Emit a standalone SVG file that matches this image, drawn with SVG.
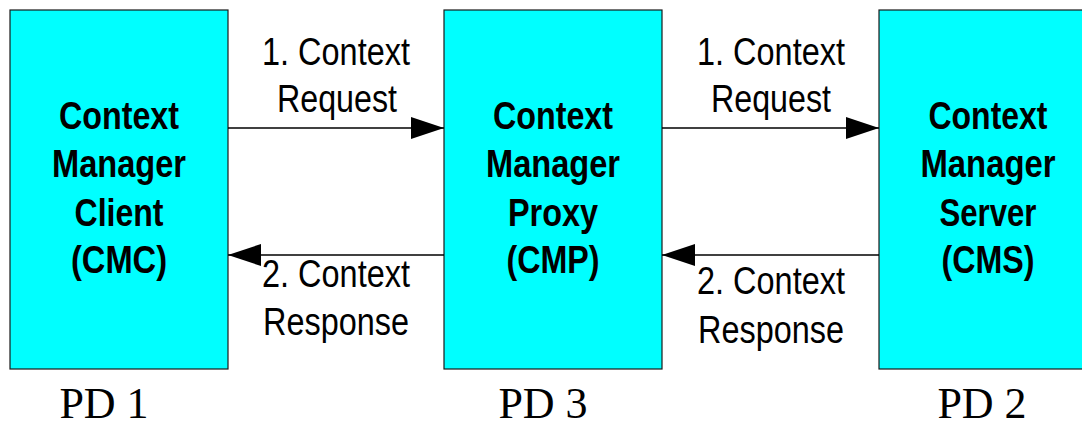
<svg xmlns="http://www.w3.org/2000/svg" width="1082" height="428" viewBox="0 0 1082 428">
<defs>
<style>
.box{fill:#00FFFF;stroke:#1a1a1a;stroke-width:1.2}
.bt{font-family:"Liberation Sans",Arial,sans-serif;font-weight:bold;font-size:38px;text-anchor:middle;fill:#000}
.lt{font-family:"Liberation Sans",Arial,sans-serif;font-size:39px;text-anchor:middle;fill:#000}
.pd{font-family:"Liberation Serif","Times New Roman",serif;font-size:44px;text-anchor:middle;fill:#000}
.ln{stroke:#000;stroke-width:1.3;fill:none}
</style>
<marker id="ah" markerUnits="userSpaceOnUse" markerWidth="34" markerHeight="22" refX="33" refY="11" orient="auto" viewBox="0 0 34 22">
<path d="M0,0 L33,11 L0,22 Z" fill="#000"/>
</marker>
</defs>
<rect width="1082" height="428" fill="#fff"/>
<g id="cmc">
<rect class="box" x="10" y="10" width="218" height="359"/>
<text class="bt" x="119" y="129" textLength="120" lengthAdjust="spacingAndGlyphs">Context</text>
<text class="bt" x="119" y="177" textLength="134" lengthAdjust="spacingAndGlyphs">Manager</text>
<text class="bt" x="119" y="226" textLength="89" lengthAdjust="spacingAndGlyphs">Client</text>
<text class="bt" x="119" y="273" textLength="96" lengthAdjust="spacingAndGlyphs">(CMC)</text>
</g>
<g id="cmp">
<rect class="box" x="444" y="10" width="218" height="359"/>
<text class="bt" x="553" y="129" textLength="120" lengthAdjust="spacingAndGlyphs">Context</text>
<text class="bt" x="553" y="177" textLength="134" lengthAdjust="spacingAndGlyphs">Manager</text>
<text class="bt" x="553" y="226" textLength="90" lengthAdjust="spacingAndGlyphs">Proxy</text>
<text class="bt" x="553" y="273" textLength="93" lengthAdjust="spacingAndGlyphs">(CMP)</text>
</g>
<g id="cms">
<rect class="box" x="879" y="10" width="218" height="359"/>
<text class="bt" x="988" y="129" textLength="119" lengthAdjust="spacingAndGlyphs">Context</text>
<text class="bt" x="988" y="177" textLength="135" lengthAdjust="spacingAndGlyphs">Manager</text>
<text class="bt" x="988" y="226" textLength="97" lengthAdjust="spacingAndGlyphs">Server</text>
<text class="bt" x="988" y="273" textLength="93" lengthAdjust="spacingAndGlyphs">(CMS)</text>
</g>
<g id="connectors">
<line class="ln" x1="228" y1="128" x2="444" y2="128" marker-end="url(#ah)"/>
<line class="ln" x1="444" y1="255" x2="228" y2="255" marker-end="url(#ah)"/>
<line class="ln" x1="662" y1="128" x2="879" y2="128" marker-end="url(#ah)"/>
<line class="ln" x1="879" y1="255" x2="662" y2="255" marker-end="url(#ah)"/>
<text class="lt" x="336" y="65" textLength="148" lengthAdjust="spacingAndGlyphs">1. Context</text>
<text class="lt" x="337" y="112" textLength="120" lengthAdjust="spacingAndGlyphs">Request</text>
<text class="lt" x="336" y="287" textLength="148" lengthAdjust="spacingAndGlyphs">2. Context</text>
<text class="lt" x="336" y="335" textLength="146" lengthAdjust="spacingAndGlyphs">Response</text>
<text class="lt" x="771" y="65" textLength="148" lengthAdjust="spacingAndGlyphs">1. Context</text>
<text class="lt" x="771" y="112" textLength="120" lengthAdjust="spacingAndGlyphs">Request</text>
<text class="lt" x="771" y="294" textLength="148" lengthAdjust="spacingAndGlyphs">2. Context</text>
<text class="lt" x="771" y="343" textLength="146" lengthAdjust="spacingAndGlyphs">Response</text>
</g>
<g id="labels">
<text class="pd" x="104" y="418">PD 1</text>
<text class="pd" x="543" y="418">PD 3</text>
<text class="pd" x="982" y="418">PD 2</text>
</g>
</svg>
